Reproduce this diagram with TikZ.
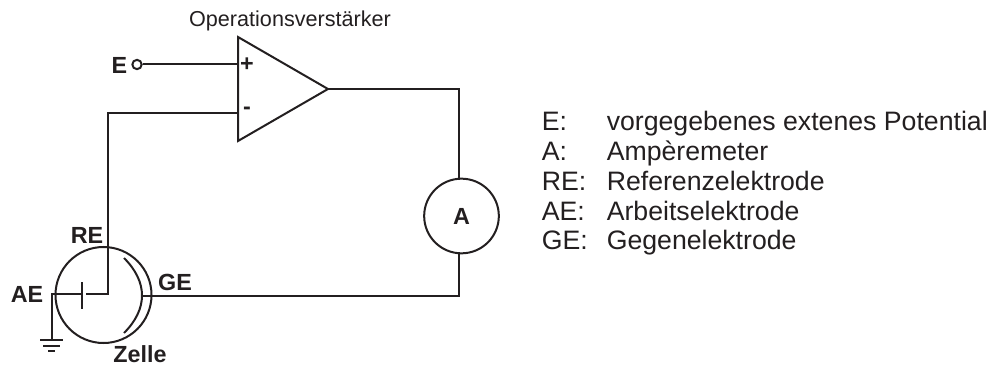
\documentclass[tikz,border=0pt]{standalone}
\usepackage{fontspec}
\setmainfont{Liberation Sans}
\tikzset{
  wire/.style={line width=1.5pt,color={rgb, 255:red, 35; green, 31; blue, 32 }},
  thin wire/.style={line width=1.2pt,color={rgb, 255:red, 35; green, 31; blue, 32 }},
  bold label/.style={font=\fontsize{17.5}{20}\selectfont\bfseries,inner sep=0pt,color={rgb, 255:red, 35; green, 31; blue, 32 }},
  plain label/.style={font=\fontsize{20}{22}\selectfont,inner sep=0pt,anchor=base west,color={rgb, 255:red, 35; green, 31; blue, 32 }},
}
\begin{document}
\begin{tikzpicture}[x=0.75pt,y=0.75pt,yscale=-1,xscale=1]
\useasboundingbox (0,0) rectangle (995,367);

%Operationsverstaerker
\coordinate (optop) at (238,37);
\coordinate (opbot) at (238,141);
\coordinate (opout) at (328,89);
\coordinate (opplus) at (238,64.5);
\coordinate (opminus) at (238,113);
\draw [wire] (optop) -- (opout) -- (opbot) -- cycle;
\node [bold label] (plus) at (247,65) {+};
\node [bold label] (minus) at (247,111) {-};
\node [plain label,anchor=base,font=\fontsize{16.2}{18}\selectfont] (optitle) at (290,27) {Operationsverstärker};

%Eingang
\node [bold label] (einlabel) at (119.5,65) {E};
\node [draw,wire,circle,inner sep=0pt,minimum size=7pt,fill=white] (eingang) at (137,64.5) {};
\draw [wire] (eingang) -- (opplus);

%Ampere
\node [draw,wire,circle,minimum size=56pt,inner sep=0pt,font=\fontsize{17.5}{20}\selectfont\bfseries] (ampere) at (461.5,216) {A};
\coordinate (ampcorner) at (459,89);
\draw [wire] (opout) -- (ampcorner) -- (ampcorner |- ampere.north);

%Zelle
\node [draw,wire,circle,minimum size=72pt,inner sep=0pt] (zelle) at (103.5,295) {};
\coordinate (recorner) at (108,113);
\coordinate (reend) at (108,294);
\coordinate (reside) at (86,294);
\coordinate (aeplateA) at (82,282);
\coordinate (aeplateB) at (82,309);
\coordinate (aewire) at (82,294);
\coordinate (aefree) at (52,294);
\coordinate (ground) at (52,340);
\coordinate (gefree) at (142,296);
\coordinate (gecorner) at (459,296);
\coordinate (gnd1a) at (40,340);
\coordinate (gnd1b) at (63,340);
\coordinate (gnd2a) at (43,346);
\coordinate (gnd2b) at (60,346);
\coordinate (gnd3a) at (48,351);
\coordinate (gnd3b) at (55,351);
\draw [wire] (opminus) -- (recorner) -- (reend) -- (reside);
\draw [wire] (aeplateA) -- (aeplateB);
\draw [wire] (aewire) -- (aefree) -- (ground);
\draw [thin wire] (gnd1a) -- (gnd1b);
\draw [thin wire] (gnd2a) -- (gnd2b);
\draw [thin wire] (gnd3a) -- (gnd3b);
\draw [wire] (gefree) -- (gecorner) -- (gecorner |- ampere.south);
\draw [wire] (124,258) .. controls (148,282) and (148,309) .. (124,333);

\node [bold label] (relabel) at (87,235) {RE};
\node [bold label] (aelabel) at (27,294.5) {AE};
\node [bold label] (gelabel) at (175,282) {GE};
\node [bold label] (zellelabel) at (140,354) {Zelle};

%Legende
\foreach \name/\kurz/\lang/\ypos in {e/E:/vorgegebenes extenes Potential/131,a/A:/Ampèremeter/160.5,re/RE:/Referenzelektrode/190.5,ae/AE:/Arbeitselektrode/220,ge/GE:/Gegenelektrode/249}{
  \node [plain label] (kurz\name) at (541.5,\ypos) {\kurz};
  \node [plain label] (lang\name) at (606.5,\ypos) {\lang};
}
\end{tikzpicture}
\end{document}
